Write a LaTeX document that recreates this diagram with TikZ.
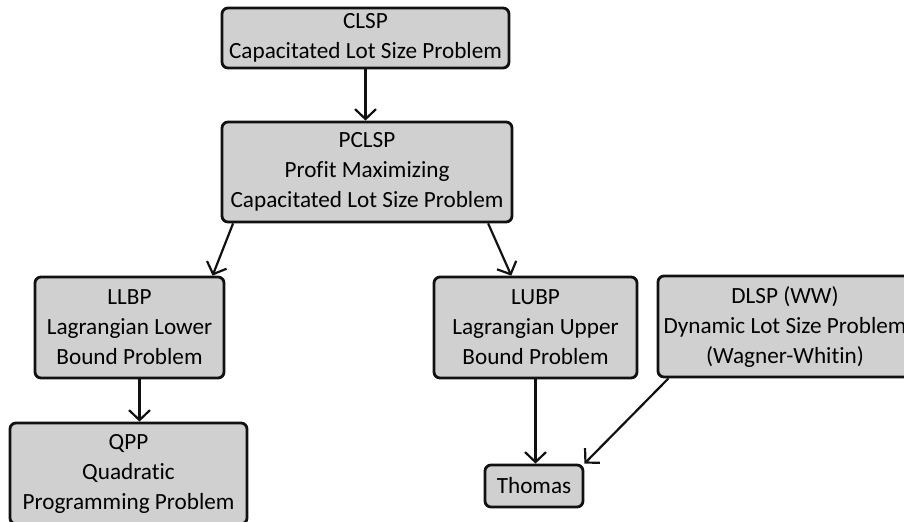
\documentclass[tikz,border=0pt]{standalone}
\usepackage{fontspec}
\setmainfont{Carlito}[Ligatures={NoCommon}]
\usepackage{tikz}
\usetikzlibrary{arrows.meta, positioning, calc}
\definecolor{boxfill}{HTML}{D0D0D0}
\definecolor{boxline}{HTML}{111111}

\begin{document}
\begin{tikzpicture}[
    x=0.5pt, y=-0.5pt,
    problem/.style={rectangle, rounded corners=3pt, draw=boxline, fill=boxfill,
                    line width=1.4pt, align=center, inner sep=0pt,
                    font=\fontsize{11.6}{15}\selectfont},
    reduce/.style={-{Straight Barb[length=5pt, width=10.5pt]}, line width=1.1pt, color=boxline}
  ]
    \useasboundingbox (0,0) rectangle (904,521);

    % Problems
    \node[problem, minimum width=143.5pt, minimum height=30pt] (clsp) at (365.5,38)
      {CLSP\\Capacitated Lot Size Problem};
    \node[problem, minimum width=145pt, minimum height=50pt] (pclsp) at (367,172)
      {PCLSP\\Profit Maximizing\\Capacitated Lot Size Problem};
    \node[problem, minimum width=94.5pt, minimum height=50.5pt] (llbp) at (129.5,327.5)
      {LLBP\\Lagrangian Lower\\Bound Problem};
    \node[problem, minimum width=118.5pt, minimum height=50.5pt] (qpp) at (128.5,473.5)
      {QPP\\Quadratic\\Programming Problem};
    \node[problem, minimum width=101.5pt, minimum height=50.5pt] (lubp) at (535.5,327.5)
      {LUBP\\Lagrangian Upper\\Bound Problem};
    \node[problem, minimum width=127pt, minimum height=50.5pt] (dlsp) at (785,326.5)
      {DLSP (WW)\\Dynamic Lot Size Problem\\(Wagner-Whitin)};
    \node[problem, minimum width=49pt, minimum height=21pt] (thomas) at (534,486)
      {Thomas};

    % Relaxations
    \draw[reduce] (clsp.south) -- (clsp.south |- pclsp.north);
    \draw[reduce] (pclsp.201) -- (llbp.32);
    \draw[reduce] (pclsp.-23) -- (lubp.115);
    \draw[reduce] ([xshift=5pt]llbp.south) -- ([xshift=5pt]llbp.south |- qpp.north);
    \draw[reduce] (lubp.south) -- (lubp.south |- thomas.north);
    \draw[reduce] (dlsp.204) -- (thomas.north east);
  \end{tikzpicture}
\end{document}
